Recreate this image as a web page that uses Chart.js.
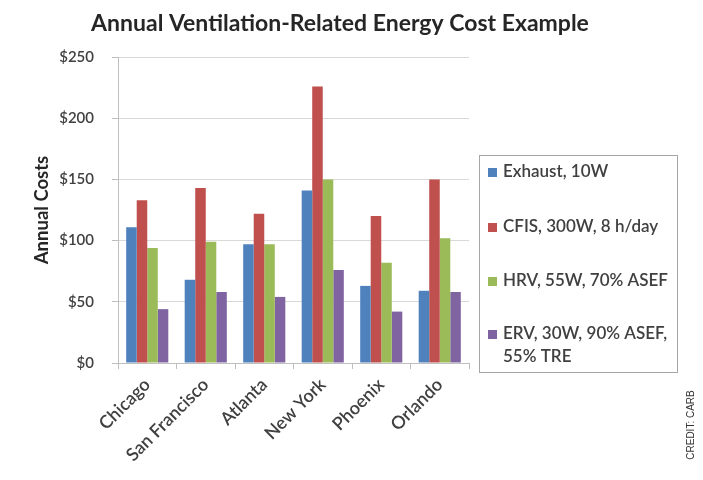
<!DOCTYPE html>
<html>
<head>
<meta charset="utf-8">
<script src="https://cdn.jsdelivr.net/npm/chart.js@4/dist/chart.umd.min.js"></script>
<style>
  html, body { margin: 0; padding: 0; background: #ffffff; }
  #wrap { width: 703px; height: 480px; position: relative; }
</style>
</head>
<body>
<div id="wrap"><canvas id="c" width="703" height="480"></canvas></div>
<script>
// Cities compared
const cities = ['Chicago', 'San Francisco', 'Atlanta', 'New York', 'Phoenix', 'Orlando'];

// Annual ventilation-related cost per system, in dollars
const exhaust10W = [111, 68, 97, 141, 63, 59];
const cfis300W   = [133, 143, 122, 226, 120, 150];
const hrv55W     = [94, 99, 97, 150, 82, 102];
const erv30W     = [44, 58, 54, 76, 42, 58];

// Legend text (one entry per series, split into lines)
const seriesLabels = [
  ['Exhaust, 10W'],
  ['CFIS, 300W, 8 h/day'],
  ['HRV, 55W, 70% ASEF'],
  ['ERV, 30W, 90% ASEF,', '55% TRE']
];
const seriesColors = ['#4f81bd', '#c0504d', '#9bbb59', '#8064a2'];

// Axis ticks
const costTicks = [0, 50, 100, 150, 200, 250];

const chartTitle = 'Annual Ventilation-Related Energy Cost Example';
const yTitle = 'Annual Costs';
const credit = 'CREDIT: CARB';

const FONT = 'Lato, "Open Sans", sans-serif';
const TEXT = '#404040';

// Title, boxed legend and credit line drawn onto the canvas
const decorations = {
  id: 'decorations',
  afterDraw(chart) {
    const ctx = chart.ctx;
    ctx.save();

    // title
    ctx.fillStyle = '#262626';
    ctx.font = 'bold 23px ' + FONT;
    ctx.textAlign = 'center';
    ctx.textBaseline = 'middle';
    ctx.fillText(chartTitle, 340, 24);

    // legend box
    const bx = 479.5, by = 155.5, bw = 198, bh = 217;
    ctx.strokeStyle = '#a6a6a6';
    ctx.lineWidth = 1;
    ctx.strokeRect(bx, by, bw, bh);

    const rowY = [172, 227, 281, 334];
    ctx.font = '600 17px ' + FONT;
    ctx.textAlign = 'left';
    ctx.textBaseline = 'middle';
    chart.data.datasets.forEach((ds, i) => {
      const y = rowY[i];
      ctx.fillStyle = ds.backgroundColor;
      ctx.fillRect(488, y - 4, 9, 9);
      ctx.fillStyle = TEXT;
      seriesLabels[i].forEach((line, j) => {
        ctx.fillText(line, 503, y + j * 23);
      });
    });

    // credit line, rotated
    ctx.translate(691, 425);
    ctx.rotate(-Math.PI / 2);
    ctx.fillStyle = '#333333';
    ctx.font = '10px "Liberation Sans", Arial, sans-serif';
    ctx.textAlign = 'center';
    ctx.fillText(credit, 0, 0);

    ctx.restore();
  }
};

const datasets = [exhaust10W, cfis300W, hrv55W, erv30W].map((values, i) => ({
  label: seriesLabels[i].join(' '),
  data: values,
  backgroundColor: seriesColors[i],
  borderWidth: 0,
  categoryPercentage: 0.72,
  barPercentage: 1.0
}));

new Chart(document.getElementById('c'), {
  type: 'bar',
  data: { labels: cities, datasets },
  plugins: [decorations],
  options: {
    responsive: false,
    animation: false,
    devicePixelRatio: 1,
    layout: { padding: { top: 57, right: 234, bottom: 0, left: 0 } },
    plugins: {
      legend: { display: false },
      title: { display: false },
      tooltip: { enabled: false }
    },
    scales: {
      x: {
        afterFit(scale) { scale.height = 117; },
        grid: {
          offset: true,
          drawOnChartArea: false,
          drawTicks: true,
          tickLength: 6,
          color: '#bfbfbf'
        },
        border: { color: '#bfbfbf' },
        ticks: {
          maxRotation: 45,
          minRotation: 45,
          color: TEXT,
          font: { family: FONT, size: 18, weight: '600' },
          padding: 5
        }
      },
      y: {
        min: 0,
        max: 250,
        afterFit(scale) { scale.width = 118; },
        afterBuildTicks(scale) { scale.ticks = costTicks.map(v => ({ value: v })); },
        grid: {
          color: '#d9d9d9',
          tickLength: 6,
          tickColor: '#bfbfbf'
        },
        border: { color: '#bfbfbf' },
        ticks: {
          color: TEXT,
          font: { family: FONT, size: 15, weight: '600' },
          padding: 18,
          callback: v => '$' + v
        },
        title: {
          display: true,
          text: yTitle,
          color: '#262626',
          font: { family: FONT, size: 18.5, weight: 'bold' },
          padding: { top: 31, bottom: 0 }
        }
      }
    }
  }
});
</script>
</body>
</html>
